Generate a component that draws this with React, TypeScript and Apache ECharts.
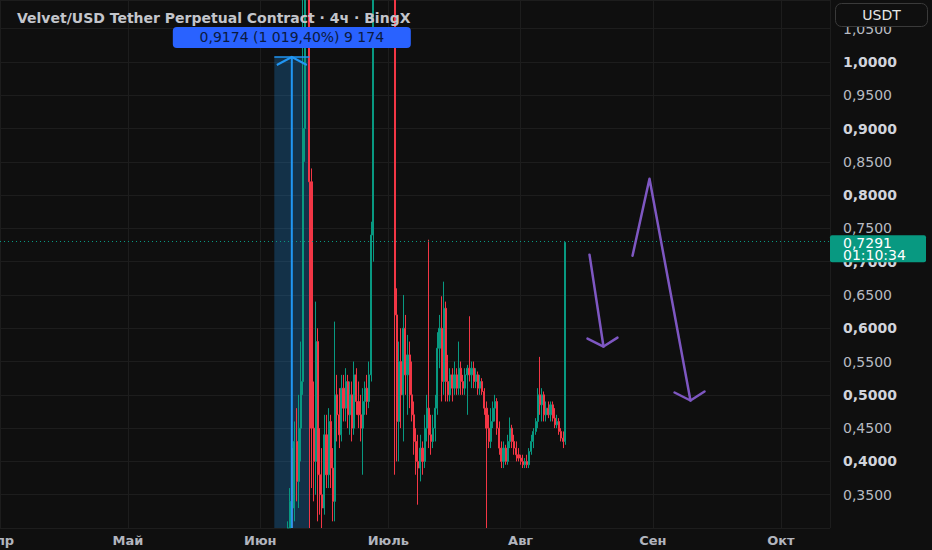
import { useEffect, useRef } from 'react'
import * as echarts from 'echarts'

const FONT = 'DejaVu Sans'
const BG = '#0f0f0f'
const GRID_LINE = '#1d1d1d'
const UP = '#089981'
const DOWN = '#f23645'
const DRAW = '#7e57c2'
const MEASURE = '#2196f3'

const TITLE = 'Velvet/USD Tether Perpetual Contract · 4ч · BingX'
const MONTHS = ['Янв', 'Фев', 'Мар', 'Апр', 'Май', 'Июн', 'Июль', 'Авг', 'Сен', 'Окт', 'Ноя', 'Дек']
const COUNTDOWN = '01:10:34'
const MEASURE_TEXT = '0,9174 (1 019,40%) 9 174'

const DAY_MS = 24 * 3600 * 1000
const BAR_MS = 12 * 3600 * 1000

function dt(month: number, day: number) {
  return new Date(2025, month - 1, 1).getTime() + (day - 1) * DAY_MS
}

const FIRST_BAR = new Date(2025, 5, 4).getTime()
const X_MIN = new Date(2025, 3, 1).getTime()
const X_MAX = new Date(2025, 9, 12, 12).getTime()

const PRICE_MIN = 0.3
const PRICE_MAX = 1.093
const PRICE_STEP = 0.05

// 12h bars: [open, high, low, close]
const bars = [
  [0.12, 0.15, 0.09, 0.14],
  [0.14, 0.19, 0.13, 0.18],
  [0.18, 0.22, 0.16, 0.2],
  [0.2, 0.24, 0.18, 0.21],
  [0.21, 0.26, 0.19, 0.24],
  [0.24, 0.28, 0.22, 0.25],
  [0.25, 0.29, 0.23, 0.27],
  [0.27, 0.31, 0.25, 0.28],
  [0.28, 0.36, 0.27, 0.34],
  [0.34, 0.42, 0.3, 0.33],
  [0.33, 0.46, 0.31, 0.43],
  [0.43, 0.48, 0.34, 0.37],
  [0.37, 0.5, 0.33, 0.45],
  [0.45, 0.58, 0.4, 0.52],
  [0.52, 1.12, 0.5, 0.9],
  [0.9, 1.35, 0.85, 1.25],
  [1.25, 1.45, 1.12, 1.3],
  [1.3, 1.38, 0.09, 0.82],
  [0.82, 0.84, 0.36, 0.45],
  [0.45, 0.52, 0.34, 0.4],
  [0.4, 0.64, 0.35, 0.58],
  [0.58, 0.6, 0.31, 0.38],
  [0.38, 0.45, 0.32, 0.35],
  [0.35, 0.42, 0.29, 0.33],
  [0.33, 0.47, 0.32, 0.44],
  [0.44, 0.47, 0.36, 0.38],
  [0.38, 0.48, 0.36, 0.46],
  [0.46, 0.47, 0.36, 0.39],
  [0.39, 0.42, 0.31, 0.34],
  [0.34, 0.61, 0.31, 0.5],
  [0.5, 0.53, 0.43, 0.47],
  [0.47, 0.51, 0.42, 0.44],
  [0.44, 0.53, 0.43, 0.51],
  [0.51, 0.53, 0.46, 0.48],
  [0.48, 0.54, 0.46, 0.52],
  [0.52, 0.53, 0.45, 0.47],
  [0.47, 0.52, 0.44, 0.5],
  [0.5, 0.52, 0.43, 0.45],
  [0.45, 0.55, 0.44, 0.53],
  [0.53, 0.54, 0.47, 0.49],
  [0.49, 0.52, 0.45, 0.47],
  [0.47, 0.5, 0.43, 0.45],
  [0.45, 0.51, 0.38, 0.49],
  [0.49, 0.52, 0.47, 0.51],
  [0.51, 0.53, 0.47, 0.49],
  [0.49, 0.55, 0.48, 0.53],
  [0.53, 0.76, 0.52, 0.74],
  [0.74, 1.25, 0.7, 1.15],
  [1.15, 1.35, 1.12, 1.3],
  [1.3, 1.45, 1.22, 1.4],
  [1.4, 1.55, 1.3, 1.35],
  [1.35, 1.48, 1.25, 1.42],
  [1.42, 1.6, 1.35, 1.5],
  [1.5, 1.55, 1.3, 1.33],
  [1.33, 1.42, 1.2, 1.38],
  [1.38, 1.45, 1.25, 1.28],
  [1.28, 1.35, 1.15, 1.2],
  [1.2, 1.25, 0.38, 0.62],
  [0.62, 0.66, 0.4, 0.46],
  [0.46, 0.58, 0.4, 0.55],
  [0.55, 0.6, 0.45, 0.5],
  [0.5, 0.65, 0.43, 0.6],
  [0.6, 0.62, 0.5, 0.53],
  [0.53, 0.59, 0.47, 0.56],
  [0.56, 0.58, 0.48, 0.5],
  [0.5, 0.55, 0.46, 0.47],
  [0.47, 0.49, 0.41, 0.43],
  [0.43, 0.45, 0.38, 0.4],
  [0.4, 0.44, 0.335, 0.39],
  [0.39, 0.44, 0.37, 0.42],
  [0.42, 0.43, 0.38, 0.4],
  [0.4, 0.47, 0.39, 0.45],
  [0.45, 0.5, 0.43, 0.48],
  [0.48, 0.733, 0.42, 0.44],
  [0.44, 0.47, 0.41, 0.43],
  [0.43, 0.47, 0.42, 0.45],
  [0.45, 0.5, 0.43, 0.48],
  [0.48, 0.594, 0.47, 0.57],
  [0.57, 0.62, 0.54, 0.6],
  [0.6, 0.648, 0.49, 0.52],
  [0.52, 0.67, 0.5, 0.63],
  [0.63, 0.64, 0.49, 0.52],
  [0.52, 0.56, 0.49, 0.5],
  [0.5, 0.54, 0.49, 0.53],
  [0.53, 0.54, 0.49, 0.51],
  [0.51, 0.55, 0.5, 0.53],
  [0.53, 0.54, 0.5, 0.51],
  [0.51, 0.58, 0.5, 0.54],
  [0.54, 0.55, 0.5, 0.52],
  [0.52, 0.53, 0.5, 0.51],
  [0.51, 0.54, 0.5, 0.53],
  [0.53, 0.545, 0.47, 0.54],
  [0.54, 0.618, 0.52, 0.53],
  [0.53, 0.55, 0.51, 0.54],
  [0.54, 0.55, 0.51, 0.52],
  [0.52, 0.54, 0.51, 0.53],
  [0.53, 0.535, 0.5, 0.51],
  [0.51, 0.53, 0.5, 0.52],
  [0.52, 0.525, 0.5, 0.505],
  [0.505, 0.51, 0.47, 0.48],
  [0.48, 0.49, 0.28, 0.45],
  [0.45, 0.47, 0.42, 0.43],
  [0.43, 0.48, 0.42, 0.46],
  [0.46, 0.49, 0.45, 0.48],
  [0.48, 0.5, 0.46, 0.49],
  [0.49, 0.495, 0.44, 0.45],
  [0.45, 0.46, 0.41, 0.42],
  [0.42, 0.43, 0.39, 0.4],
  [0.4, 0.43, 0.39, 0.42],
  [0.42, 0.425, 0.395, 0.4],
  [0.4, 0.44, 0.395, 0.43],
  [0.43, 0.466, 0.42, 0.45],
  [0.45, 0.455, 0.42, 0.43],
  [0.43, 0.44, 0.41, 0.42],
  [0.42, 0.43, 0.4, 0.41],
  [0.41, 0.42, 0.4, 0.405],
  [0.405, 0.41, 0.395, 0.4],
  [0.4, 0.41, 0.39, 0.395],
  [0.395, 0.405, 0.39, 0.4],
  [0.4, 0.41, 0.39, 0.395],
  [0.395, 0.42, 0.39, 0.415],
  [0.415, 0.44, 0.41, 0.43],
  [0.43, 0.45, 0.42, 0.445],
  [0.445, 0.465, 0.44, 0.46],
  [0.46, 0.51, 0.45, 0.5],
  [0.5, 0.557, 0.47, 0.485],
  [0.485, 0.51, 0.46, 0.5],
  [0.5, 0.505, 0.46, 0.47],
  [0.47, 0.49, 0.46, 0.48],
  [0.48, 0.49, 0.465, 0.47],
  [0.47, 0.49, 0.46, 0.485],
  [0.485, 0.49, 0.46, 0.465],
  [0.465, 0.48, 0.45, 0.455],
  [0.455, 0.47, 0.45, 0.46],
  [0.46, 0.465, 0.44, 0.445],
  [0.445, 0.45, 0.43, 0.435],
  [0.435, 0.445, 0.42, 0.43],
  [0.43, 0.7291, 0.425, 0.7291],
]

const LAST = bars[bars.length - 1][3]

// price range tool: [time, price] corners
const measureFrom = [dt(6, 4.28), 0.09]
const measureTo = [dt(6, 12.49), 1.0074]

// hand-drawn arrows, in [time, price]
const arrowSmall = [[dt(8, 17.14), 0.7105], [dt(8, 20.42), 0.5725]]
const arrowSmallHead = [[dt(8, 16.67), 0.5845], [dt(8, 20.42), 0.5725], [dt(8, 23.7), 0.586]]
const arrowBig = [[dt(8, 27.22), 0.709], [dt(8, 31.2), 0.8245], [dt(9, 9.8), 0.4915]]
const arrowBigHead = [[dt(9, 6.07), 0.5035], [dt(9, 9.8), 0.4915], [dt(9, 13.1), 0.505]]

const fmtPrice = (v: number) => v.toFixed(4).replace('.', ',')

// candles that cross the visible price range get cut at its edges, like the pane does
const clampPrice = (v: number) => Math.min(PRICE_MAX, Math.max(PRICE_MIN, v))
function toItem(b: number[], i: number) {
  const [o, h, l, c] = b
  const t = FIRST_BAR + i * BAR_MS
  if (h < PRICE_MIN || l > PRICE_MAX) return [t, o, c, l, h]
  return [t, clampPrice(o), clampPrice(c), clampPrice(l), clampPrice(h)]
}

export default function App() {
  const chartRef = useRef<HTMLDivElement>(null)

  useEffect(() => {
    if (!chartRef.current) return
    document.body.style.margin = '0'
    document.body.style.background = BG

    const chart = echarts.init(chartRef.current, null, { renderer: 'svg' })

    chart.setOption({
      animation: false,
      backgroundColor: BG,
      textStyle: { fontFamily: FONT },
      title: {
        text: TITLE,
        left: 12,
        top: 6,
        textStyle: { color: '#c3c5cb', fontSize: 14, fontWeight: 'bold', fontFamily: FONT },
      },
      grid: { left: 0, right: 102, top: 0, bottom: 22, containLabel: false, outerBoundsMode: 'none' },
      xAxis: {
        type: 'time',
        min: X_MIN,
        max: X_MAX,
        splitNumber: 7,
        minInterval: 28 * DAY_MS,
        maxInterval: 31 * DAY_MS,
        axisLine: { show: false },
        axisTick: { show: false },
        splitLine: { show: true, lineStyle: { color: GRID_LINE } },
        axisLabel: {
          color: '#b2b5be',
          fontSize: 13,
          fontWeight: 'bold',
          fontFamily: FONT,
          margin: 6,
          showMaxLabel: false,
          formatter: (v: number) => MONTHS[new Date(v).getMonth()],
        },
      },
      yAxis: {
        type: 'value',
        position: 'right',
        min: PRICE_MIN,
        max: PRICE_MAX,
        interval: PRICE_STEP,
        axisLine: { show: false },
        axisTick: { show: false },
        splitLine: { lineStyle: { color: GRID_LINE } },
        axisLabel: {
          margin: 13,
          showMinLabel: false,
          showMaxLabel: false,
          formatter: (v: number) => {
            const bold = Math.round(v * 100) % 10 === 0
            return `{${bold ? 'b' : 'n'}|${fmtPrice(v)}}`
          },
          rich: {
            b: { color: '#d1d4dc', fontSize: 14, fontWeight: 'bold', fontFamily: FONT },
            n: { color: '#b8bbc2', fontSize: 14, fontFamily: FONT },
          },
        },
      },
      series: [
        {
          type: 'candlestick',
          data: bars.map(toItem),
          encode: { x: 0, y: [1, 2, 3, 4] },
          barWidth: 1.6,
          clip: true,
          itemStyle: {
            color: UP,
            color0: DOWN,
            borderColor: UP,
            borderColor0: DOWN,
            borderColorDoji: UP,
            borderWidth: 1,
          },
          markLine: {
            silent: true,
            symbol: ['none', 'none'],
            label: { show: false },
            lineStyle: { color: UP, type: [1, 3], width: 1 },
            data: [{ yAxis: LAST }],
          },
        },
      ],
    })

    const px = (p: number[]) => chart.convertToPixel({ gridIndex: 0 }, p) as number[]
    const pts = (list: number[][]) => list.map(px)

    const plotBottom = px([X_MIN, PRICE_MIN])[1]
    const a = px(measureFrom)
    const b = px(measureTo)
    const mx0 = a[0]
    const mx1 = b[0]
    const mTop = b[1]
    const mBottom = Math.min(a[1], plotBottom)
    const mcx = (mx0 + mx1) / 2
    const yLast = px([X_MIN, LAST])[1]
    const axisX = px([X_MAX, LAST])[0]

    const drawStyle = { stroke: DRAW, lineWidth: 2.5, fill: 'none', lineCap: 'round', lineJoin: 'round' }

    chart.setOption({
      graphic: [
        {
          type: 'rect',
          z: 1,
          shape: { x: mx0, y: mTop, width: mx1 - mx0, height: mBottom - mTop },
          style: { fill: 'rgba(33,150,243,0.25)' },
        },
        {
          type: 'line',
          z: 100,
          shape: { x1: mx0, y1: mTop, x2: mx1, y2: mTop },
          style: { stroke: MEASURE, lineWidth: 1.5 },
        },
        {
          type: 'line',
          z: 100,
          shape: { x1: mcx, y1: mBottom, x2: mcx, y2: mTop },
          style: { stroke: MEASURE, lineWidth: 2 },
        },
        {
          type: 'polyline',
          z: 100,
          shape: { points: [[mcx - 15, mTop + 8], [mcx, mTop], [mcx + 15, mTop + 8]] },
          style: { stroke: MEASURE, lineWidth: 2, fill: 'none' },
        },
        {
          type: 'rect',
          z: 100,
          shape: { x: mcx - 119, y: mTop - 30, width: 238, height: 21, r: 4 },
          style: { fill: '#2962ff' },
        },
        {
          type: 'text',
          z: 101,
          x: mcx,
          y: mTop - 19.5,
          style: {
            text: MEASURE_TEXT,
            fill: '#0b1a40',
            fontSize: 14,
            fontFamily: FONT,
            align: 'center',
            verticalAlign: 'middle',
          },
        },
        { type: 'polyline', z: 100, shape: { points: pts(arrowSmall) }, style: drawStyle },
        { type: 'polyline', z: 100, shape: { points: pts(arrowSmallHead) }, style: drawStyle },
        { type: 'polyline', z: 100, shape: { points: pts(arrowBig) }, style: drawStyle },
        { type: 'polyline', z: 100, shape: { points: pts(arrowBigHead) }, style: drawStyle },
        {
          type: 'rect',
          z: 100,
          shape: { x: axisX, y: yLast - 7, width: 96, height: 27, r: 2 },
          style: { fill: UP },
        },
        {
          type: 'text',
          z: 101,
          x: axisX + 13,
          y: yLast + 0.5,
          style: { text: fmtPrice(LAST), fill: '#ffffff', fontSize: 14, fontFamily: FONT, verticalAlign: 'middle' },
        },
        {
          type: 'text',
          z: 101,
          x: axisX + 13,
          y: yLast + 13,
          style: { text: COUNTDOWN, fill: '#ffffff', fontSize: 14, fontFamily: FONT, verticalAlign: 'middle' },
        },
        {
          type: 'rect',
          z: 100,
          shape: { x: 835.5, y: 3.5, width: 92, height: 23, r: 6 },
          style: { fill: BG, stroke: '#3a3a3a', lineWidth: 1 },
        },
        {
          type: 'text',
          z: 101,
          x: 881.5,
          y: 15,
          style: {
            text: 'USDT',
            fill: '#e6e6e6',
            fontSize: 14,
            fontFamily: FONT,
            align: 'center',
            verticalAlign: 'middle',
          },
        },
      ],
    })

    return () => {
      chart.dispose()
    }
  }, [])

  return <div ref={chartRef} style={{ width: '932px', height: '550px' }}></div>
}
